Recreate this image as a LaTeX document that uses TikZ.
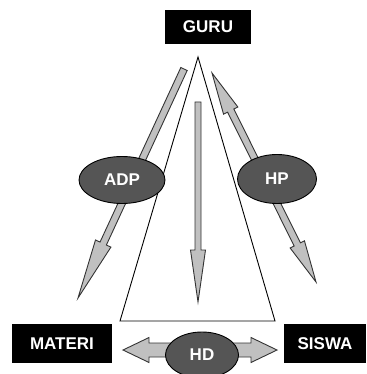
\documentclass[tikz,border=0pt]{standalone}
\usepackage{fontspec}
\setmainfont{Liberation Sans}
\usetikzlibrary{calc,shapes.geometric}
\definecolor{arrowgray}{HTML}{C0C0C0}
\definecolor{ovalgray}{HTML}{555555}
\tikzset{
  namebox/.style={fill=black, text=white, inner sep=0pt, minimum height=39pt,
    font=\bfseries\fontsize{17}{20}\selectfont},
  oval/.style={ellipse, draw=black, fill=ovalgray, text=white, inner sep=0pt,
    line width=0.9pt, font=\bfseries\fontsize{17}{20}\selectfont},
  arrowbody/.style={fill=arrowgray, draw=black!80, line width=0.9pt, line join=miter},
}
% #1 tail, #2 tip, #3 half shaft, #4 half head, #5 head length
\newcommand{\fatarrow}[5]{
  \path ($(#2)!#5!(#1)$) coordinate (hb);
  \filldraw[arrowbody] ($(#1)!#3!90:(#2)$) -- ($(hb)!#3!90:(#2)$) -- ($(hb)!#4!90:(#2)$)
    -- (#2) -- ($(hb)!#4!-90:(#2)$) -- ($(hb)!#3!-90:(#2)$) -- ($(#1)!#3!-90:(#2)$) -- cycle;
}
% #1 tip, #2 tip, #3 half shaft, #4 half head, #5 head length
\newcommand{\fatdarrow}[5]{
  \path ($(#1)!#5!(#2)$) coordinate (ha) ($(#2)!#5!(#1)$) coordinate (hb);
  \filldraw[arrowbody] (#1) -- ($(ha)!#4!90:(#2)$) -- ($(ha)!#3!90:(#2)$) -- ($(hb)!#3!90:(#2)$)
    -- ($(hb)!#4!90:(#2)$) -- (#2) -- ($(hb)!#4!-90:(#2)$) -- ($(hb)!#3!-90:(#2)$)
    -- ($(ha)!#3!-90:(#2)$) -- ($(ha)!#4!-90:(#2)$) -- cycle;
}
\begin{document}
\begin{tikzpicture}[x=1pt,y=-1pt]
  \useasboundingbox (0,0) rectangle (366,374);
  \draw[line width=0.9pt, fill=white] (198,57) coordinate (apex) -- (120,321) coordinate (bl) -- (275,321) coordinate (br) -- cycle;

  \coordinate (adp-s) at (184,69);
  \coordinate (adp-e) at (78,298);
  \coordinate (mid-s) at (198,102);
  \coordinate (mid-e) at (198,302);
  \coordinate (hp-s)  at (212,73);
  \coordinate (hp-e)  at (316,282);
  \coordinate (hd-s)  at (123,350);
  \coordinate (hd-e)  at (277,350);

  \fatarrow{adp-s}{adp-e}{3.5pt}{8.5pt}{60pt}
  \fatarrow{mid-s}{mid-e}{3pt}{7.5pt}{52pt}
  \fatdarrow{hp-s}{hp-e}{3.5pt}{8pt}{42pt}
  \fatdarrow{hd-s}{hd-e}{7pt}{12.5pt}{26pt}

  \node[oval, minimum width=86pt, minimum height=47pt] (adp) at (122,180) {ADP};
  \node[oval, minimum width=79pt, minimum height=49pt] (hp)  at (277,179) {HP};
  \node[oval, minimum width=73pt, minimum height=46pt] (hd)  at (202,355) {HD};

  \node[namebox, minimum width=86pt, minimum height=34pt] (guru) at (208,27) {GURU};
  \node[namebox, minimum width=100pt] (materi) at (62,343.5) {MATERI};
  \node[namebox, minimum width=82pt]  (siswa)  at (325,343.5) {SISWA};
\end{tikzpicture}
\end{document}
